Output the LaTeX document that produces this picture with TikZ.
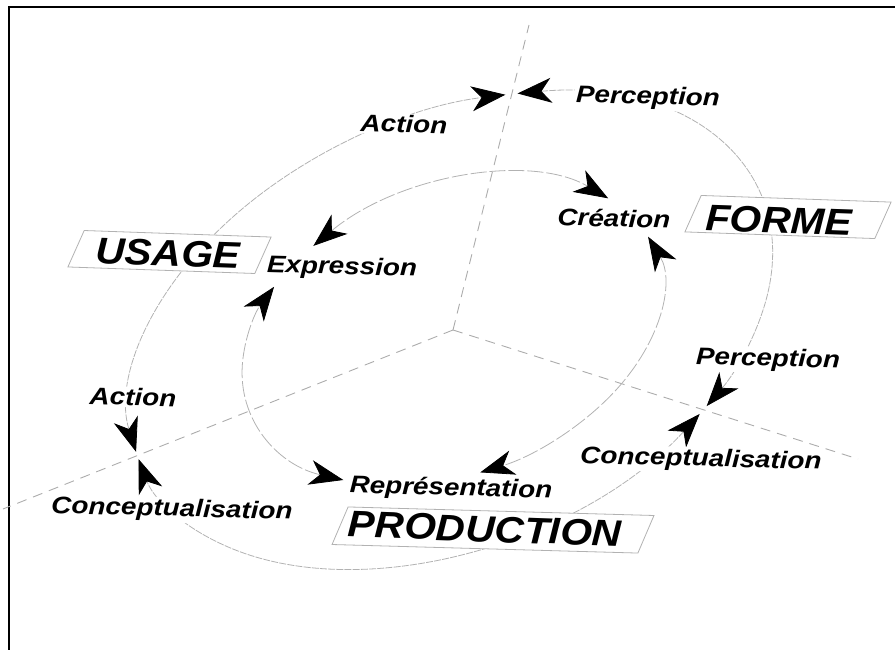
\documentclass[tikz,border=0pt]{standalone}
\usepackage{fontspec}
\usetikzlibrary{arrows.meta,calc}
\newfontfamily\lblfont{Liberation Sans}[FakeStretch=1.16]
\newfontfamily\bigfont{Liberation Sans}[FakeStretch=1.10]
\begin{document}
\begin{tikzpicture}[x=1pt,y=-1pt,
  frameline/.style={line width=2pt,black},
  axisline/.style={draw=gray!65,line width=0.9pt,dash pattern=on 10pt off 7pt},
  outerline/.style={draw=gray!60,line width=0.8pt,dash pattern=on 7pt off 1.2pt},
  innerline/.style={draw=gray!60,line width=0.8pt,dash pattern=on 16pt off 3pt},
  twohead/.style={{Stealth[length=34pt,width=25pt,inset=10pt,color=black]}-{Stealth[length=34pt,width=25pt,inset=10pt,color=black]}},
  lbl/.style={font=\lblfont\fontsize{24}{24}\selectfont\bfseries\itshape,fill=white,inner sep=1.5pt,rotate=-1.5},
  boxline/.style={draw=gray!60,line width=0.8pt,fill=white},
  bigtxt/.style={font=\bigfont\fontsize{37}{37}\selectfont\bfseries\itshape,inner sep=0pt,rotate=-2}]
\useasboundingbox (0,0) rectangle (895,650);
% frame
\coordinate (fbl) at (9,651);
\coordinate (ftl) at (9,7);
\coordinate (ftr) at (896,7);
\draw[frameline] (fbl) -- (ftl) -- (ftr);
% axes
\coordinate (ctr) at (453,330);
\coordinate (axtop) at (529,25);
\coordinate (axleft) at (3,509);
\coordinate (axright) at (858,459);
\draw[axisline] (ctr) -- (axtop);
\draw[axisline] (ctr) -- (axleft);
\draw[axisline] (ctr) -- (axright);
% inner ellipse arcs
\begin{scope}[shift={(452,330)},rotate=21]
  \coordinate (i1) at ({218*cos(242.9)},{144*sin(242.9)});
  \coordinate (i2) at ({218*cos(-6.7)},{144*sin(-6.7)});
  \coordinate (i3) at ({218*cos(135.4)},{144*sin(135.4)});
  \draw[innerline,twohead] (i1) arc[start angle=242.9,end angle=332.3,x radius=218,y radius=144];
  \draw[innerline,twohead] (i2) arc[start angle=-6.7,end angle=96.5,x radius=218,y radius=144];
  \draw[innerline,twohead] (i3) arc[start angle=135.4,end angle=226.3,x radius=218,y radius=144];
\end{scope}
% outer ellipse arcs
\begin{scope}[shift={(451,330.5)},rotate=23.5]
  \coordinate (o1) at ({338*cos(-62.6)},{215*sin(-62.6)});
  \coordinate (o2) at ({338*cos(54.8)},{215*sin(54.8)});
  \coordinate (o3) at ({338*cos(183.8)},{215*sin(183.8)});
  \draw[outerline,twohead] (o1) arc[start angle=-62.6,end angle=52.8,x radius=338,y radius=215];
  \draw[outerline,twohead] (o2) arc[start angle=54.8,end angle=181.8,x radius=338,y radius=215];
  \draw[outerline,twohead] (o3) arc[start angle=183.8,end angle=295.2,x radius=338,y radius=215];
\end{scope}
% boxes (parallelograms)
\begin{scope}[shift={(169.5,252)},rotate=-2]
  \path[boxline] (-86,-18.5) -- (101,-18.5) -- (86,18.5) -- (-101,18.5) -- cycle;
\end{scope}
\begin{scope}[shift={(788,217)},rotate=-2]
  \path[boxline] (-87.5,-18.5) -- (102.5,-18.5) -- (87.5,18.5) -- (-102.5,18.5) -- cycle;
\end{scope}
\begin{scope}[shift={(493,530)},rotate=-1.6]
  \path[boxline] (-145.5,-19) -- (160.5,-19) -- (145.5,19) -- (-160.5,19) -- cycle;
\end{scope}
\node[bigtxt] (usage) at (168,253) {USAGE};
\node[bigtxt] (forme) at (779,220) {FORME};
\node[bigtxt] (prod) at (485,529) {PRODUCTION};
% labels
\node[lbl] (actiontop) at (404,124) {Action};
\node[lbl] (perctop) at (648,98) {Perception};
\node[lbl] (expr) at (342,268) {Expression};
\node[lbl] (crea) at (614,218) {Création};
\node[lbl] (actionleft) at (133,397) {Action};
\node[lbl] (concleft) at (172,510) {Conceptualisation};
\node[lbl] (repr) at (451,489) {Représentation};
\node[lbl] (percright) at (768,360) {Perception};
\node[lbl] (concright) at (701,460) {Conceptualisation};
\end{tikzpicture}
\end{document}
